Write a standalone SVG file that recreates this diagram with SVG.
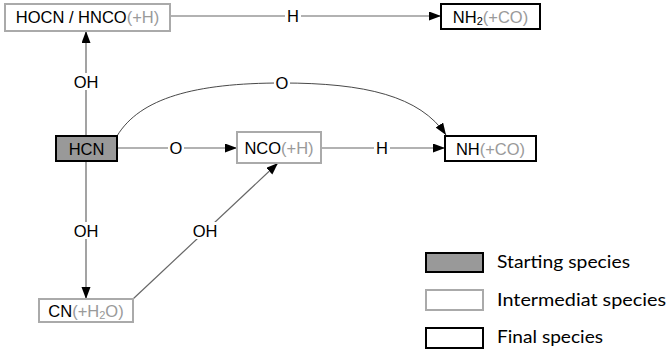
<svg xmlns="http://www.w3.org/2000/svg" width="671" height="353" viewBox="0 0 671 353">
  <style>
    .node text, .lbl { font-family: "Liberation Sans", Arial, sans-serif; font-size: 16.5px; fill: #000; }
    .sub { fill: #9a9a9a; }
    .start { fill: #999; stroke: #000; stroke-width: 2; }
    .inter { fill: #fff; stroke: #aaa; stroke-width: 2; }
    .final { fill: #fff; stroke: #000; stroke-width: 2; }
    .edge { fill: none; stroke: #666; stroke-width: 1.2; }
    .curve { fill: none; stroke: #333; stroke-width: 0.9; }
    .bg { fill: #fff; }
    .legend text { font-family: Lato, "Open Sans", sans-serif; font-size: 17.5px; fill: #000; }
  </style>
  <defs>
    <marker id="arrow" markerUnits="userSpaceOnUse" markerWidth="13" markerHeight="10" refX="12" refY="4.5" orient="auto">
      <path d="M0,0 L12,4.5 L0,9 z" fill="#000"/>
    </marker>
  </defs>

  <rect width="671" height="353" fill="#fff"/>

  <!-- reactions -->
  <g id="edges">
    <line class="edge" x1="171" y1="16" x2="441" y2="16" marker-end="url(#arrow)"/>
    <line class="edge" x1="86" y1="136" x2="86" y2="31" marker-end="url(#arrow)"/>
    <line class="edge" x1="117" y1="148" x2="237" y2="148" marker-end="url(#arrow)"/>
    <line class="edge" x1="321" y1="148" x2="445" y2="148" marker-end="url(#arrow)"/>
    <line class="edge" x1="86" y1="161" x2="86" y2="299" marker-end="url(#arrow)"/>
    <line class="edge" x1="133" y1="299" x2="278" y2="163" marker-end="url(#arrow)"/>
    <path class="curve" d="M117,136 C140,98 195,83 282,83 C365,83 420,96 446,135" marker-end="url(#arrow)"/>

    <!-- reagent labels -->
    <rect class="bg" x="285" y="8" width="16" height="16"/>
    <text class="lbl" x="293" y="22" text-anchor="middle">H</text>
    <rect class="bg" x="72" y="73" width="28" height="17"/>
    <text class="lbl" x="86" y="88" text-anchor="middle">OH</text>
    <rect class="bg" x="168" y="140" width="16" height="16"/>
    <text class="lbl" x="176" y="154" text-anchor="middle">O</text>
    <rect class="bg" x="374" y="140" width="16" height="16"/>
    <text class="lbl" x="382" y="154" text-anchor="middle">H</text>
    <rect class="bg" x="274" y="75" width="16" height="16"/>
    <text class="lbl" x="282" y="89" text-anchor="middle">O</text>
    <rect class="bg" x="72" y="222" width="28" height="17"/>
    <text class="lbl" x="86" y="237" text-anchor="middle">OH</text>
    <rect class="bg" x="191" y="222" width="28" height="17"/>
    <text class="lbl" x="205" y="237" text-anchor="middle">OH</text>
  </g>

  <g id="hocn" class="node">
    <rect class="inter" x="5" y="4" width="165" height="27"/>
    <text x="87.5" y="23" text-anchor="middle">HOCN / HNCO<tspan class="sub">(+H)</tspan></text>
  </g>

  <g id="nh2" class="node">
    <rect class="final" x="441" y="4" width="99" height="25"/>
    <text x="490.5" y="22.5" text-anchor="middle">NH<tspan font-size="11" dy="2">2</tspan><tspan class="sub" dy="-2">(+CO)</tspan></text>
  </g>

  <g id="hcn" class="node">
    <rect class="start" x="56" y="136" width="61" height="25"/>
    <text x="86.5" y="154.5" text-anchor="middle">HCN</text>
  </g>

  <g id="nco" class="node">
    <rect class="inter" x="237" y="132" width="84" height="31"/>
    <text x="279" y="154" text-anchor="middle">NCO<tspan class="sub">(+H)</tspan></text>
  </g>

  <g id="nh" class="node">
    <rect class="final" x="445" y="136" width="91" height="25"/>
    <text x="490.5" y="154.5" text-anchor="middle">NH<tspan class="sub">(+CO)</tspan></text>
  </g>

  <g id="cn" class="node">
    <rect class="inter" x="39" y="299" width="94" height="23"/>
    <text x="86" y="316.5" text-anchor="middle">CN<tspan class="sub">(+H<tspan font-size="11" dy="2">2</tspan><tspan dy="-2">O)</tspan></tspan></text>
  </g>

  <g id="legend" class="legend">
    <rect class="start" x="426" y="253" width="57" height="19"/>
    <text x="497" y="268" textLength="133" lengthAdjust="spacingAndGlyphs">Starting species</text>
    <rect class="inter" x="426" y="290" width="57" height="20"/>
    <text x="497" y="306" textLength="169" lengthAdjust="spacingAndGlyphs">Intermediat species</text>
    <rect class="final" x="426" y="328" width="57" height="20"/>
    <text x="497" y="343" textLength="106" lengthAdjust="spacingAndGlyphs">Final species</text>
  </g>
</svg>
